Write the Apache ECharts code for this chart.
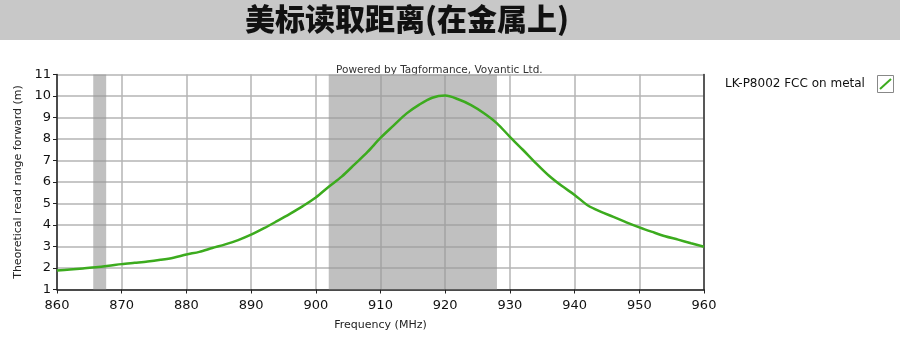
<!DOCTYPE html>
<html>
<head>
<meta charset="utf-8">
<script src="https://cdn.jsdelivr.net/npm/echarts@6/dist/echarts.min.js"></script>
<style>
  html, body { margin: 0; padding: 0; background: #fff; }
  #chart { width: 900px; height: 355px; }
</style>
</head>
<body>
<div id="chart"></div>
<script>
// 频率 (MHz)
var freqs = [860, 862, 864, 866, 868, 870, 872, 874, 876, 878,
             880, 882, 884, 886, 888, 890, 892, 894, 896, 898,
             900, 902, 904, 906, 908, 910, 912, 914, 916, 918,
             920, 922, 924, 926, 928, 930, 932, 934, 936, 938,
             940, 942, 944, 946, 948, 950, 952, 954, 956, 958, 960];
// 读取距离 (m)
var ranges = [1.88, 1.93, 1.98, 2.03, 2.10, 2.18, 2.24, 2.30, 2.38, 2.48,
              2.63, 2.75, 2.93, 3.10, 3.30, 3.55, 3.85, 4.18, 4.52, 4.88,
              5.28, 5.78, 6.25, 6.82, 7.40, 8.05, 8.62, 9.18, 9.60, 9.92,
              10.02, 9.85, 9.58, 9.20, 8.73, 8.10, 7.50, 6.88, 6.30, 5.82,
              5.40, 4.92, 4.62, 4.38, 4.12, 3.89, 3.68, 3.48, 3.32, 3.15, 2.99];
// 灰色频段
var bands = [[865.6, 867.6], [902, 928]];
var seriesName = 'LK-P8002 FCC on metal';

var chart = echarts.init(document.getElementById('chart'));

var points = [];
for (var i = 0; i < freqs.length; i++) {
    points.push([freqs[i], ranges[i]]);
}
var areas = [];
for (var j = 0; j < bands.length; j++) {
    areas.push([{ xAxis: bands[j][0] }, { xAxis: bands[j][1] }]);
}

var font = 'DejaVu Sans';

var option = {
    animation: false,
    backgroundColor: '#fff',
    grid: {
        left: 57,
        right: 196,
        top: 74.5,
        bottom: 65.5
    },
    xAxis: {
        type: 'value',
        min: 860,
        max: 960,
        interval: 10,
        name: 'Frequency (MHz)',
        nameLocation: 'middle',
        nameGap: 30,
        nameTextStyle: { color: '#222', fontFamily: font, fontSize: 11 },
        axisLine: { show: true, onZero: false, lineStyle: { color: '#222', width: 1.5 } },
        axisTick: { show: true, length: 4, lineStyle: { color: '#222' } },
        axisLabel: { color: '#111', fontFamily: font, fontSize: 13, margin: 10 },
        splitLine: { show: true, lineStyle: { color: '#b4b4b4', width: 1.5 } }
    },
    yAxis: [
        {
            type: 'value',
            min: 1,
            max: 11,
            interval: 1,
            name: 'Theoretical read range forward (m)',
            nameLocation: 'middle',
            nameGap: 32,
            nameTextStyle: { color: '#222', fontFamily: font, fontSize: 11 },
            axisLine: { show: true, lineStyle: { color: '#222', width: 1.5 } },
            axisTick: { show: true, length: 4, lineStyle: { color: '#222' } },
            axisLabel: { color: '#111', fontFamily: font, fontSize: 13, margin: 6 },
            splitLine: { show: true, lineStyle: { color: '#b4b4b4', width: 1.5 } }
        },
        {
            type: 'value',
            min: 1,
            max: 11,
            position: 'right',
            axisLine: { show: true, lineStyle: { color: '#333', width: 1.5 } },
            axisTick: { show: false },
            axisLabel: { show: false },
            splitLine: { show: false }
        }
    ],
    series: [
        {
            name: seriesName,
            type: 'line',
            data: points,
            smooth: 0.3,
            showSymbol: false,
            lineStyle: { color: '#3cab1e', width: 2.5 },
            markArea: {
                silent: true,
                itemStyle: { color: 'rgba(150,150,150,0.6)' },
                data: areas
            }
        }
    ],
    graphic: [
        // 标题底色
        { type: 'rect', left: 0, top: 0, shape: { width: 900, height: 40 }, style: { fill: '#c8c8c8' }, z: -10 },
        {
            type: 'text', left: 245, top: 4,
            style: {
                text: '美标读取距离(在金属上)',
                fill: '#111',
                font: '900 30px "Noto Sans CJK SC"'
            }
        },
        {
            type: 'text', left: 336, top: 65,
            style: { text: 'Powered by Tagformance, Voyantic Ltd.', fill: '#333', font: '10.5px "DejaVu Sans"' }
        },
        {
            type: 'text', left: 725, top: 78,
            style: { text: seriesName, fill: '#111', font: '12px "DejaVu Sans"' }
        },
        { type: 'rect', shape: { x: 877.5, y: 75.5, width: 16, height: 17 }, style: { fill: '#fff', stroke: '#888', lineWidth: 1 } },
        { type: 'line', shape: { x1: 880, y1: 89, x2: 891, y2: 79 }, style: { stroke: '#3cab1e', lineWidth: 2 } }
    ]
};

chart.setOption(option);
</script>
</body>
</html>
